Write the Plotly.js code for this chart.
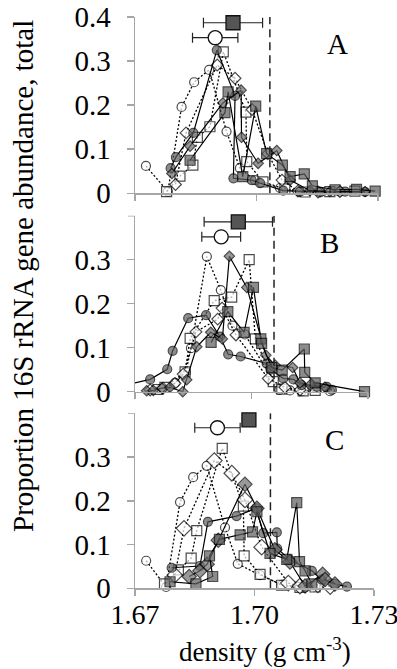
<!DOCTYPE html>
<html><head><meta charset="utf-8">
<script src="https://cdn.plot.ly/plotly-3.0.1.min.js"></script>
<style>html,body{margin:0;padding:0;background:#fff}#chart{width:397px;height:669px}</style>
</head><body><div id="chart"></div>
<script>
// ---------- Panel A ----------
const A_openCircle_x  = [1.6727, 1.6781, 1.6815, 1.6846, 1.6883, 1.6926, 1.6959, 1.6996, 1.7058, 1.7107, 1.7157, 1.7206];
const A_openCircle_y  = [0.062, 0.004, 0.196, 0.252, 0.280, 0.140, 0.057, 0.030, 0.012, 0.003, 0.002, 0.004];
const A_openSquare_x  = [1.6778, 1.6811, 1.6843, 1.6854, 1.6885, 1.6918, 1.6974, 1.6976, 1.7016, 1.7070, 1.7120, 1.7181, 1.7243];
const A_openSquare_y  = [0.004, 0.039, 0.064, 0.127, 0.151, 0.321, 0.184, 0.072, 0.026, 0.010, 0.003, 0.004, 0.005];
const A_openDiamond_x = [1.6800, 1.6826, 1.6903, 1.6947, 1.6989, 1.7028, 1.7063, 1.7102, 1.7152, 1.7206];
const A_openDiamond_y = [0.020, 0.137, 0.291, 0.261, 0.190, 0.090, 0.030, 0.005, 0.003, 0.004];
const A_fillCircle_x  = [1.6788, 1.6801, 1.6844, 1.6902, 1.6947, 1.6943, 1.6988, 1.7009, 1.7066, 1.7107, 1.7157, 1.7219, 1.7268];
const A_fillCircle_y  = [0.057, 0.082, 0.137, 0.325, 0.221, 0.034, 0.030, 0.023, 0.006, 0.004, 0.003, 0.004, 0.003];
const A_fillSquare_x  = [1.6836, 1.6922, 1.6930, 1.6966, 1.6998, 1.7025, 1.7064, 1.7083, 1.7118, 1.7138, 1.7194, 1.7247, 1.7293];
const A_fillSquare_y  = [0.075, 0.183, 0.230, 0.038, 0.198, 0.090, 0.064, 0.038, 0.044, 0.017, 0.008, 0.009, 0.005];
const A_fillDiamond_x = [1.6791, 1.6836, 1.6917, 1.6962, 1.6963, 1.7004, 1.7050, 1.7083, 1.7132, 1.7181, 1.7268];
const A_fillDiamond_y = [0.045, 0.107, 0.205, 0.234, 0.127, 0.068, 0.097, 0.030, 0.006, 0.004, 0.004];

// ---------- Panel B ----------
const B_openCircle_x  = [1.6764, 1.6803, 1.6831, 1.6844, 1.6885, 1.6921, 1.6951, 1.6983, 1.7072, 1.7099, 1.7129, 1.7202];
const B_openCircle_y  = [0.005, 0.020, 0.044, 0.099, 0.307, 0.231, 0.150, 0.130, 0.004, 0.003, 0.001, 0.001];
const B_openSquare_x  = [1.6759, 1.6777, 1.6829, 1.6842, 1.6904, 1.6949, 1.6994, 1.7010, 1.7056, 1.7078, 1.7133, 1.7164];
const B_openSquare_y  = [0.005, 0.010, 0.045, 0.121, 0.207, 0.215, 0.300, 0.120, 0.023, 0.006, 0.002, 0.003];
const B_openDiamond_x = [1.6739, 1.6772, 1.6803, 1.6824, 1.6857, 1.6913, 1.6924, 1.6960, 1.7043, 1.7086, 1.7125];
const B_openDiamond_y = [0.004, 0.008, 0.019, 0.040, 0.136, 0.165, 0.190, 0.129, 0.030, 0.010, 0.004];
const B_fillCircle_x  = [1.6636, 1.6739, 1.6783, 1.6797, 1.6837, 1.6883, 1.6919, 1.6940, 1.6972, 1.7039, 1.7049, 1.7082, 1.7108, 1.7129, 1.7168, 1.7194, 1.7207];
const B_fillCircle_y  = [0.007, 0.028, 0.051, 0.093, 0.167, 0.174, 0.125, 0.085, 0.080, 0.064, 0.050, 0.030, 0.028, 0.015, 0.011, 0.011, 0.004];
const B_fillSquare_x  = [1.6896, 1.6939, 1.6981, 1.7005, 1.7024, 1.7026, 1.7052, 1.7079, 1.7136, 1.7137, 1.7164, 1.7291];
const B_fillSquare_y  = [0.112, 0.182, 0.135, 0.237, 0.120, 0.110, 0.055, 0.049, 0.097, 0.044, 0.020, 0.000];
const B_fillDiamond_x = [1.6730, 1.6747, 1.6769, 1.6790, 1.6823, 1.6833, 1.6859, 1.6895, 1.6925, 1.6943, 1.6988, 1.7037, 1.7061, 1.7106, 1.7125, 1.7151, 1.7189];
const B_fillDiamond_y = [0.002, 0.003, 0.008, 0.010, 0.000, 0.027, 0.102, 0.135, 0.120, 0.308, 0.237, 0.083, 0.060, 0.055, 0.020, 0.015, 0.010];

// ---------- Panel C ----------
const C_openCircle_x  = [1.6728, 1.6778, 1.6813, 1.6846, 1.6880, 1.6926, 1.6958, 1.7014, 1.7069, 1.7127, 1.7152];
const C_openCircle_y  = [0.063, 0.003, 0.197, 0.254, 0.280, 0.139, 0.056, 0.030, 0.008, 0.002, 0.003];
const C_openSquare_x  = [1.6774, 1.6809, 1.6841, 1.6855, 1.6919, 1.6972, 1.6974, 1.7014, 1.7068, 1.7114, 1.7152];
const C_openSquare_y  = [0.010, 0.042, 0.069, 0.132, 0.320, 0.188, 0.074, 0.032, 0.007, 0.002, 0.003];
const C_openDiamond_x = [1.6800, 1.6823, 1.6899, 1.6943, 1.6976, 1.7018, 1.7085, 1.7114, 1.7159, 1.7190];
const C_openDiamond_y = [0.030, 0.137, 0.292, 0.263, 0.202, 0.094, 0.012, 0.005, 0.008, 0.004];
const C_fillCircle_x  = [1.6792, 1.6863, 1.6883, 1.6955, 1.7004, 1.7022, 1.7056, 1.7057, 1.7089, 1.7144, 1.7169, 1.7202, 1.7232];
const C_fillCircle_y  = [0.047, 0.051, 0.152, 0.165, 0.183, 0.126, 0.128, 0.091, 0.065, 0.040, 0.020, 0.010, 0.004];
const C_fillSquare_x  = [1.6788, 1.6853, 1.6895, 1.6887, 1.6912, 1.6964, 1.6995, 1.7006, 1.7039, 1.7081, 1.7106, 1.7113, 1.7127, 1.7144];
const C_fillSquare_y  = [0.015, 0.010, 0.027, 0.074, 0.112, 0.122, 0.129, 0.175, 0.080, 0.066, 0.196, 0.061, 0.040, 0.010];
const C_fillDiamond_x = [1.6836, 1.6863, 1.6881, 1.6909, 1.6976, 1.7006, 1.7051, 1.7089, 1.7127, 1.7171, 1.7177, 1.7202];
const C_fillDiamond_y = [0.027, 0.040, 0.055, 0.110, 0.238, 0.183, 0.088, 0.060, 0.005, 0.032, 0.020, 0.010];

// ---------- mean peak densities (±SD) and reference line ----------
const panels          = ['A', 'B', 'C'];
const meanFilled_x    = [1.6942, 1.6966, 1.6986];
const meanFilled_err  = [0.0073, 0.0088, 0.0000];
const meanFilled_y    = [0.387, 0.386, 0.385];
const meanOpen_x      = [1.6898, 1.6922, 1.6907];
const meanOpen_err    = [0.0056, 0.0050, 0.0057];
const meanOpen_y      = [0.353, 0.352, 0.367];
const refLine_x       = [1.7033, 1.7058, 1.7040];
const yTickVals       = [0, 0.1, 0.2, 0.3, 0.4];
const xTickVals       = [1.67, 1.70, 1.73];
const xTickText       = ['1.67', '1.70', '1.73'];

const seriesData = {
  A: {openCircle:[A_openCircle_x,A_openCircle_y], openSquare:[A_openSquare_x,A_openSquare_y], openDiamond:[A_openDiamond_x,A_openDiamond_y],
      fillCircle:[A_fillCircle_x,A_fillCircle_y], fillSquare:[A_fillSquare_x,A_fillSquare_y], fillDiamond:[A_fillDiamond_x,A_fillDiamond_y]},
  B: {openCircle:[B_openCircle_x,B_openCircle_y], openSquare:[B_openSquare_x,B_openSquare_y], openDiamond:[B_openDiamond_x,B_openDiamond_y],
      fillCircle:[B_fillCircle_x,B_fillCircle_y], fillSquare:[B_fillSquare_x,B_fillSquare_y], fillDiamond:[B_fillDiamond_x,B_fillDiamond_y]},
  C: {openCircle:[C_openCircle_x,C_openCircle_y], openSquare:[C_openSquare_x,C_openSquare_y], openDiamond:[C_openDiamond_x,C_openDiamond_y],
      fillCircle:[C_fillCircle_x,C_fillCircle_y], fillSquare:[C_fillSquare_x,C_fillSquare_y], fillDiamond:[C_fillDiamond_x,C_fillDiamond_y]}
};

const GRAY = '#5c5c5c';
const styles = {
  openCircle:  {symbol:'circle',  fill:'#ffffff', dash:'dot',   size:9},
  openSquare:  {symbol:'square',  fill:'#ffffff', dash:'dot',   size:10},
  openDiamond: {symbol:'diamond', fill:'#ffffff', dash:'dot',   size:8},
  fillCircle:  {symbol:'circle',  fill:GRAY,      dash:'solid', size:9},
  fillSquare:  {symbol:'square',  fill:GRAY,      dash:'solid', size:10},
  fillDiamond: {symbol:'diamond', fill:'#6e6e6e', dash:'solid', size:7}
};
const diamondSize = {A: 8, B: 8, C: 11};
const order = ['openCircle','openSquare','openDiamond','fillCircle','fillDiamond','fillSquare'];

// pixel layout of the three panels (in a 397 x 669 page)
const W = 397, H = 669;
const box = {
  A: {x0:135, x1:378, top:17,    bottom:193.3},
  B: {x0:135, x1:368, top:215.7, bottom:391.7},
  C: {x0:135, x1:374, top:413.3, bottom:588.3}
};

const FONT = 'Liberation Serif, Times New Roman, serif';
const AXC = '#a6a6a6';
const traces = [];
const layout = {
  width: W, height: H,
  margin: {l:0, r:0, t:0, b:0},
  paper_bgcolor: '#fff', plot_bgcolor: 'rgba(0,0,0,0)',
  showlegend: false,
  font: {family: FONT, color: '#000', size: 24},
  shapes: [], annotations: []
};

panels.forEach((p, i) => {
  const n = i === 0 ? '' : String(i + 1);
  const xa = 'x' + n, ya = 'y' + n;
  const b = box[p];
  layout['xaxis' + n] = {
    domain: [b.x0 / W, b.x1 / W], range: [1.67, 1.73], anchor: ya,
    showline: true, linecolor: AXC, linewidth: 1.5, zeroline: false, showgrid: false,
    ticks: 'outside', ticklen: 6, tickcolor: AXC, tickwidth: 1.5,
    tickvals: xTickVals, ticktext: xTickText, showticklabels: p === 'C',
    ticklabeloverflow: 'allow',
    tickfont: {family: FONT, size: 28, color: '#000'}, ticklabelstandoff: -5,
    fixedrange: true
  };
  layout['yaxis' + n] = {
    domain: [(H - b.bottom) / H, (H - b.top) / H], range: [0, 0.4], anchor: xa,
    showline: true, linecolor: AXC, linewidth: 1.5, zeroline: false, showgrid: false,
    ticks: 'outside', ticklen: 7, tickcolor: AXC, tickwidth: 1.5,
    tickvals: p === 'A' ? yTickVals : yTickVals.slice(0, 4),
    ticktext: (p === 'A' ? yTickVals : yTickVals.slice(0, 4)).map(v => String(v)),
    ticklabeloverflow: 'allow',
    tickfont: {family: FONT, size: 29, color: '#000'}, ticklabelstandoff: 10,
    fixedrange: true
  };
  // top tick mark of panels B and C (no label in the reference)
  if (p !== 'A') {
    layout.shapes.push({
      type: 'line', xref: xa + ' domain', yref: ya, x0: 0, x1: -7 / (b.x1 - b.x0), y0: 0.4, y1: 0.4,
      line: {color: AXC, width: 1.5}
    });
  }

  order.forEach(k => {
    const st = styles[k];
    const [xs, ys] = seriesData[p][k];
    const sz = k.indexOf('Diamond') >= 0 ? (k === 'openDiamond' ? diamondSize[p] + 1 : diamondSize[p]) : st.size;
    traces.push({
      type: 'scatter', mode: 'lines+markers', x: xs, y: ys, xaxis: xa, yaxis: ya,
      cliponaxis: false,
      line: {color: '#000', width: st.dash === 'dot' ? 1.3 : 1.2, dash: st.dash === 'dot' ? '2px,2px' : 'solid'},
      marker: {symbol: st.symbol, size: xs.map(v => v < 1.67 ? 0 : sz), color: st.fill,
               line: {color: '#000', width: 1.2}},
      hoverinfo: 'skip'
    });
  });

  // mean markers with error bars
  traces.push({
    type: 'scatter', mode: 'markers', x: [meanOpen_x[i]], y: [meanOpen_y[i]], xaxis: xa, yaxis: ya,
    cliponaxis: false,
    error_x: {type: 'data', array: [meanOpen_err[i]], visible: true, color: '#222', thickness: 1.2, width: 5},
    marker: {symbol: 'circle', size: 14, color: '#fff', line: {color: '#111', width: 1.3}},
    hoverinfo: 'skip'
  });
  traces.push({
    type: 'scatter', mode: 'markers', x: [meanFilled_x[i]], y: [meanFilled_y[i]], xaxis: xa, yaxis: ya,
    cliponaxis: false,
    error_x: {type: 'data', array: [meanFilled_err[i]], visible: meanFilled_err[i] > 0, color: '#222', thickness: 1.2, width: 5},
    marker: {symbol: 'square', size: 14, color: '#555555', line: {color: '#111', width: 1.3}},
    hoverinfo: 'skip'
  });

  layout.shapes.push({
    type: 'line', xref: xa, yref: ya, x0: refLine_x[i], x1: refLine_x[i], y0: 0, y1: 0.4,
    line: {color: '#222', width: 1.5, dash: '8px,5px'}
  });
  layout.annotations.push({
    text: p, xref: xa + ' domain', yref: ya + ' domain', x: 0.835, y: 0.845,
    xanchor: 'center', yanchor: 'middle', showarrow: false,
    font: {family: FONT, size: 29, color: '#000'}
  });
});

layout.annotations.push({
  text: 'Proportion 16S rRNA gene abundance, total', xref: 'paper', yref: 'paper',
  x: 23 / W, y: (H - 276) / H, textangle: -90, showarrow: false,
  xanchor: 'center', yanchor: 'middle', font: {family: FONT, size: 29, color: '#000'}
});
layout.annotations.push({
  text: 'density (g cm<sup>-3</sup>)', xref: 'paper', yref: 'paper',
  x: 265 / W, y: (H - 650) / H, showarrow: false,
  xanchor: 'center', yanchor: 'middle', font: {family: FONT, size: 27, color: '#000'}
});

Plotly.newPlot('chart', traces, layout, {staticPlot: true, displayModeBar: false});
</script>
</body></html>
